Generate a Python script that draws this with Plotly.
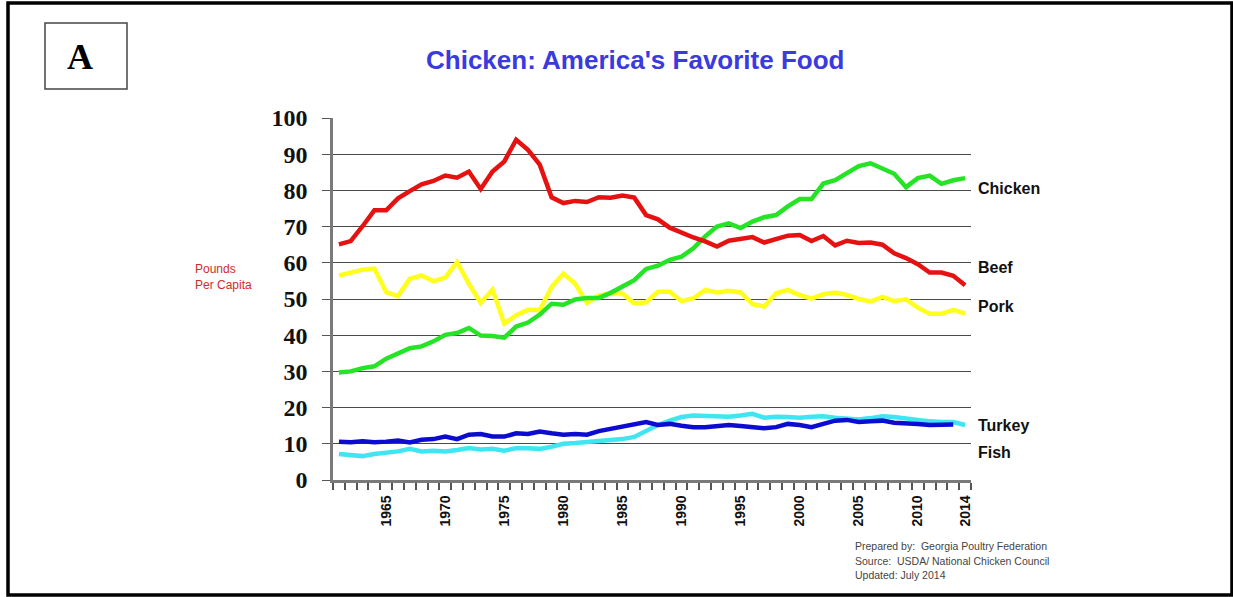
import plotly.graph_objects as go

years = list(range(1961, 2015))

beef = [65.1, 66.0, 70.1, 74.5, 74.5, 77.8, 79.8, 81.7, 82.6, 84.1,
        83.5, 85.2, 80.4, 85.2, 88.0, 94.0, 91.2, 87.1, 78.1, 76.5,
        77.1, 76.8, 78.1, 78.0, 78.6, 78.0, 73.2, 72.0, 69.7, 68.2,
        67.0, 65.9, 64.5, 66.1, 66.5, 67.1, 65.6, 66.6, 67.5, 67.7,
        66.0, 67.4, 64.8, 66.1, 65.5, 65.6, 65.0, 62.6, 61.3, 59.6,
        57.3, 57.3, 56.4, 53.8]

chicken = [29.7, 30.0, 30.9, 31.4, 33.5, 35.1, 36.4, 36.9, 38.3, 40.1,
           40.6, 42.0, 39.9, 39.8, 39.3, 42.4, 43.5, 45.7, 48.7, 48.4,
           49.9, 50.3, 50.3, 51.7, 53.3, 55.2, 58.3, 59.2, 60.8, 61.7,
           64.0, 67.3, 70.0, 70.9, 69.6, 71.4, 72.6, 73.2, 75.6, 77.6,
           77.6, 81.9, 82.8, 84.9, 86.7, 87.5, 86.2, 84.6, 80.9, 83.4,
           84.1, 81.8, 82.8, 83.4]

pork = [56.5, 57.2, 58.1, 58.4, 51.9, 50.8, 55.6, 56.5, 54.9, 55.9,
        60.2, 54.2, 48.9, 52.6, 43.2, 45.5, 47.0, 46.9, 53.3, 57.0,
        54.2, 48.9, 51.0, 51.5, 51.5, 48.8, 49.1, 52.0, 52.0, 49.4,
        50.2, 52.5, 51.8, 52.3, 51.8, 48.6, 47.9, 51.6, 52.5, 51.1,
        50.1, 51.3, 51.8, 51.1, 50.0, 49.3, 50.6, 49.4, 49.9, 47.6,
        45.9, 45.9, 47.0, 46.0]

turkey = [10.6, 10.4, 10.7, 10.4, 10.6, 10.9, 10.4, 11.1, 11.3, 12.0,
          11.3, 12.5, 12.7, 12.0, 12.0, 12.9, 12.7, 13.4, 12.9, 12.5,
          12.7, 12.5, 13.5, 14.1, 15.0, 15.4, 16.0, 15.2, 15.5, 15.0,
          14.6, 14.6, 14.9, 15.2, 14.9, 14.6, 14.3, 14.6, 15.5, 15.2,
          14.6, 15.5, 16.4, 16.6, 16.0, 16.2, 16.4, 15.8, 15.8, 15.5,
          15.2, 15.3, 15.3, None]

fish = [7.2, 7.0, 6.6, 7.2, 7.5, 7.9, 8.6, 7.9, 8.1, 7.9,
        8.3, 8.8, 8.4, 8.6, 8.1, 8.8, 8.8, 8.6, 9.2, 10.0,
        10.2, 10.4, 10.9, 11.1, 11.3, 11.9, 13.5, 15.2, 16.4, 17.4,
        17.8, 17.6, 17.4, 17.5, 17.8, 18.3, 17.2, 17.5, 17.4, 17.2,
        17.5, 17.6, 17.2, 16.9, 16.7, 17.1, 17.6, 17.4, 16.9, 16.4,
        16.2, 16.0, 16.0, 15.2]

label_years = [1965, 1970, 1975, 1980, 1985, 1990, 1995, 2000, 2005, 2010, 2014]
y_ticks = list(range(0, 101, 10))

series = [
    ("Fish", fish, "#3fe6f2"),
    ("Turkey", turkey, "#0b0bd2"),
    ("Pork", pork, "#ffff1e"),
    ("Chicken", chicken, "#25e325"),
    ("Beef", beef, "#e61212"),
]
end_labels = [("Chicken", 80.5), ("Beef", 58.6), ("Pork", 47.8), ("Turkey", 15.1), ("Fish", 7.6)]

fig = go.Figure()
for name, vals, col in series:
    fig.add_trace(go.Scatter(x=years, y=vals, mode="lines", name=name,
                             line=dict(color=col, width=4.5), connectgaps=False))

boundaries = [y - 0.5 for y in years] + [years[-1] + 0.5]

W, H = 1233, 597
ml, mr, mt, mb = 333, 262, 118, 117
pw, ph = W - ml - mr, H - mt - mb

def px(x):
    return (x - ml) / pw

def py(y):
    return (H - mb - y) / ph

SANS = "Liberation Sans, Arial, sans-serif"
SERIF = "Liberation Serif, Times New Roman, serif"

fig.update_layout(
    width=W, height=H,
    margin=dict(l=ml, r=mr, t=mt, b=mb),
    paper_bgcolor="white", plot_bgcolor="white",
    showlegend=False,
    xaxis=dict(
        range=[boundaries[0], boundaries[-1]],
        tickmode="array", tickvals=label_years, ticktext=[str(v) for v in label_years],
        tickangle=-90, ticks="outside", ticklen=7, tickcolor="rgba(0,0,0,0)",
        tickfont=dict(family=SANS, size=14, color="#111", weight="bold"),
        showgrid=False, zeroline=False,
        showline=True, linecolor="#7a7a7a", linewidth=2.5,
        minor=dict(tickmode="array", tickvals=boundaries, ticks="outside", ticklen=7,
                   tickcolor="#555", tickwidth=1.5, showgrid=False),
    ),
    yaxis=dict(
        range=[0, 100], tickmode="array", tickvals=y_ticks,
        ticks="outside", ticklen=8, tickcolor="#555", tickwidth=1.2,
        tickfont=dict(family=SERIF, size=24, color="#111", weight="bold"),
        ticklabelstandoff=10,
        showgrid=True, gridcolor="#4a4a4a", gridwidth=1.2,
        zeroline=False, showline=True, linecolor="#7a7a7a", linewidth=2.5,
    ),
)

shapes = [
    dict(type="rect", xref="paper", yref="paper", x0=px(8), x1=px(1232), y0=py(595), y1=py(3),
         line=dict(color="black", width=3.5), fillcolor="rgba(0,0,0,0)", layer="below"),
    dict(type="rect", xref="paper", yref="paper", x0=px(45), x1=px(127), y0=py(89), y1=py(23),
         line=dict(color="#444", width=1.5), fillcolor="rgba(0,0,0,0)"),
]
fig.update_layout(shapes=shapes)

ann = [
    dict(text="A", x=px(80), y=py(57), xref="paper", yref="paper", showarrow=False,
         xanchor="center", yanchor="middle",
         font=dict(family=SERIF, size=36, color="black", weight="bold")),
    dict(text="Chicken: America's Favorite Food", x=px(635), y=py(60), xref="paper", yref="paper",
         showarrow=False, xanchor="center", yanchor="middle",
         font=dict(family=SANS, size=26, color="#3a3ade", weight="bold")),
    dict(text="Pounds<br>Per Capita", x=px(193), y=py(277), xref="paper", yref="paper", showarrow=False,
         xanchor="left", yanchor="middle", align="left",
         font=dict(family=SANS, size=12, color="#d42a2a")),
    dict(text="Prepared by:  Georgia Poultry Federation", x=px(853), y=py(546), xref="paper", yref="paper",
         showarrow=False, xanchor="left", yanchor="middle",
         font=dict(family=SANS, size=10.5, color="#444")),
    dict(text="Source:  USDA/ National Chicken Council<br>Updated: July 2014", x=px(853), y=py(568),
         xref="paper", yref="paper", showarrow=False, xanchor="left", yanchor="middle", align="left",
         font=dict(family=SANS, size=10.5, color="#444")),
]
for name, yv in end_labels:
    ann.append(dict(text=name, x=1, y=yv, xref="paper", yref="y", xanchor="left", yanchor="middle",
                    xshift=5, showarrow=False,
                    font=dict(family=SANS, size=16, color="#111", weight="bold")))
fig.update_layout(annotations=ann)

fig.write_html("out.html", config={"displayModeBar": False},
               post_script="document.body.style.margin='0px';document.body.style.overflow='hidden';")
